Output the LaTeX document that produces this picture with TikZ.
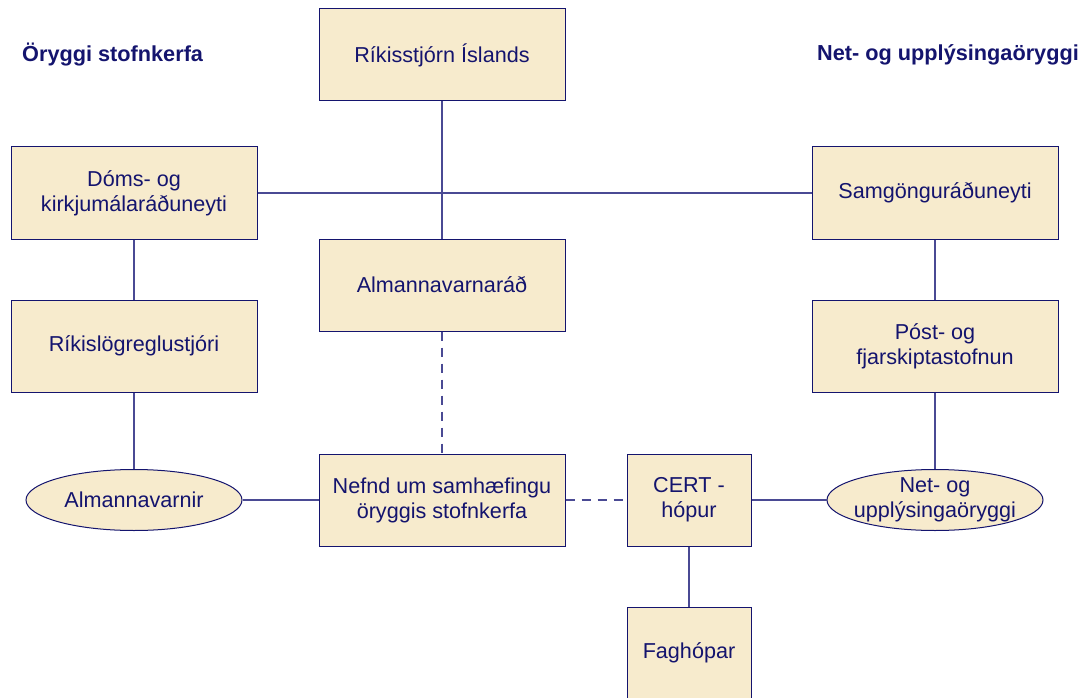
\documentclass[tikz,border=0pt]{standalone}
\usepackage{fontspec}
\setmainfont{Liberation Sans}
\usetikzlibrary{shapes.geometric}
\definecolor{boxfill}{HTML}{F7EBCD}
\definecolor{navy}{HTML}{14146E}
\definecolor{linec}{HTML}{4A4A94}
\begin{document}
\begin{tikzpicture}[x=1pt,y=-1pt,
  box/.style={draw=navy, line width=1pt, fill=boxfill, minimum width=246pt, minimum height=92pt, inner sep=0pt, align=center, text=navy, font=\fontsize{21.6}{25}\selectfont},
  smallbox/.style={box, minimum width=124pt},
  oval/.style={ellipse, draw=navy, line width=1pt, fill=boxfill, minimum width=216pt, minimum height=61pt, inner sep=0pt},
  lbl/.style={align=center, text=navy, inner sep=0pt, font=\fontsize{21.6}{25}\selectfont},
  head/.style={anchor=west, text=navy, inner sep=0pt, font=\fontsize{21.7}{25}\selectfont\bfseries},
  conn/.style={draw=linec, line width=1.1pt},
  dconn/.style={conn, dash pattern=on 9pt off 7pt}]
\useasboundingbox (0,0) rectangle (1084,698);

\node[head] (h1) at (22,55) {Öryggi stofnkerfa};
\node[head] (h2) at (817,55) {Net- og upplýsingaöryggi};

\node[box] (rik) at (442,55) {Ríkisstjórn Íslands};
\node[box] (dom) at (134,193) {Dóms- og\\kirkjumálaráðuneyti};
\node[box] (sam) at (935,193) {Samgönguráðuneyti};
\node[box] (alm) at (442,285) {Almannavarnaráð};
\node[box] (rlg) at (134,346) {Ríkislögreglustjóri};
\node[box] (pfs) at (935,346) {Póst- og\\fjarskiptastofnun};
\node[box] (nef) at (442,500) {Nefnd um samhæfingu\\öryggis stofnkerfa};
\node[smallbox] (cert) at (689,500) {CERT -\\hópur};
\node[smallbox] (fag) at (689,653) {Faghópar};
\node[oval] (avn) at (134,500) {};
\node[lbl] at (avn) {Almannavarnir};
\node[oval] (net) at (935,500) {};
\node[lbl] at (net) {Net- og\\upplýsingaöryggi};

\draw[conn] (rik.south) -- (alm.north);
\draw[conn] (dom.east) -- (sam.west);
\draw[conn] (dom.south) -- (rlg.north);
\draw[conn] (rlg.south) -- (avn.north);
\draw[conn] (sam.south) -- (pfs.north);
\draw[conn] (pfs.south) -- (net.north);
\draw[dconn] (alm.south) -- (nef.north);
\draw[conn] (avn.east) -- (nef.west);
\draw[dconn] (nef.east) -- (cert.west);
\draw[conn] (cert.east) -- (net.west);
\draw[conn] (cert.south) -- (fag.north);
\end{tikzpicture}
\end{document}
